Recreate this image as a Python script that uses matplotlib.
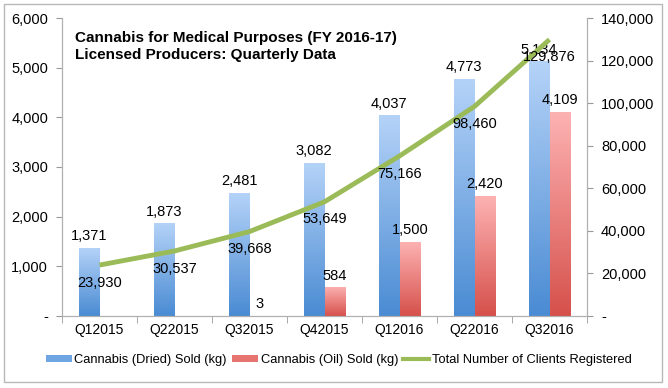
import numpy as np
import matplotlib
matplotlib.use("Agg")
import matplotlib.pyplot as plt
from matplotlib.colors import LinearSegmentedColormap
from matplotlib.patches import Rectangle, Patch
from matplotlib.lines import Line2D
from matplotlib.ticker import FuncFormatter

quarters = ["Q12015", "Q22015", "Q32015", "Q42015", "Q12016", "Q22016", "Q32016"]
dried = [1371, 1873, 2481, 3082, 4037, 4773, 5134]
oil = [0, 0, 3, 584, 1500, 2420, 4109]
clients = [23930, 30537, 39668, 53649, 75166, 98460, 129876]

blue_cm = LinearSegmentedColormap.from_list("b", ["#4a8bd3", "#b5d3f8"])
red_cm = LinearSegmentedColormap.from_list("r", ["#d6504b", "#fdb3b3"])
green = "#9bbb59"

plt.rcParams["font.family"] = ["Liberation Sans", "DejaVu Sans"]

fig = plt.figure(figsize=(6.68, 3.88), dpi=100)
ax = fig.add_axes([62 / 668, 1 - 316 / 388, (587 - 62) / 668, (316 - 18) / 388])
ax2 = ax.twinx()

x = np.arange(len(quarters))
w = 0.28
grad = np.linspace(0, 1, 256).reshape(-1, 1)


def gradient_bars(xs, vals, cmap):
    bars = ax.bar(xs, vals, width=w, align="edge", color="none", edgecolor="none")
    for b in bars:
        h = b.get_height()
        if h <= 0:
            continue
        im = ax.imshow(grad, cmap=cmap, origin="lower", aspect="auto",
                       extent=[b.get_x(), b.get_x() + b.get_width(), 0, h], zorder=2)
        im.set_clip_path(b)
    return bars


gradient_bars(x - w, dried, blue_cm)
gradient_bars(x, oil, red_cm)
ax.set_xlim(-0.5, len(quarters) - 0.5)
ax.set_ylim(0, 6000)
ax2.set_ylim(0, 140000)

fmt = FuncFormatter(lambda v, p: "-" if v == 0 else f"{int(v):,}")
ax.yaxis.set_major_formatter(fmt)
ax2.yaxis.set_major_formatter(fmt)
ax.set_yticks(np.arange(0, 6001, 1000))
ax2.set_yticks(np.arange(0, 140001, 20000))

ax.set_xticks(x)
ax.set_xticklabels(quarters, fontsize=10)
ax.set_xticks(np.arange(-0.5, len(quarters)), minor=True)
ax.tick_params(axis="x", which="major", length=0, pad=5)
ax.tick_params(axis="x", which="minor", length=5, color="#999999")
ax.tick_params(axis="y", length=4, color="#999999", labelsize=10.5, pad=6)
ax2.tick_params(axis="y", length=4, color="#999999", labelsize=10.5, pad=6)

for a in (ax, ax2):
    a.spines["top"].set_visible(False)
    for s in ("left", "right", "bottom"):
        a.spines[s].set_color("#b0b0b0")

# line on secondary axis
ax2.plot(x, clients, color=green, lw=3.5, solid_capstyle="butt", zorder=3)

# labels
for i in range(len(quarters)):
    ax.text(x[i] - w / 2, dried[i] + 90, f"{dried[i]:,}", ha="center", va="bottom", fontsize=10.5, zorder=5)
    if oil[i] > 0:
        ax.text(x[i] + w / 2, oil[i] + 90, f"{oil[i]:,}", ha="center", va="bottom", fontsize=10.5, zorder=5)
    ax2.text(x[i], clients[i] - 5000, f"{clients[i]:,}", ha="center", va="top", fontsize=10.5, zorder=5)

ax.text(0.025, 0.955, "Cannabis for Medical Purposes (FY 2016-17)\nLicensed Producers: Quarterly Data",
        transform=ax.transAxes, ha="left", va="top", fontsize=11, fontweight="bold", linespacing=1.2)

handles = [Patch(facecolor="#6fa5e3", edgecolor="none"),
           Patch(facecolor="#e67470", edgecolor="none"),
           Line2D([0], [0], color=green, lw=3)]
fig.legend(handles, ["Cannabis (Dried) Sold (kg)", "Cannabis (Oil) Sold (kg)", "Total Number of Clients Registered"],
           loc="center", bbox_to_anchor=(0.507, 1 - 360 / 388), ncol=3, frameon=False, fontsize=9.3,
           handlelength=2.0, handleheight=0.4, handletextpad=0.2, columnspacing=0.4)

fig.patches.append(Rectangle((4 / 668, 1 - 382 / 388), 658 / 668, 378 / 388, transform=fig.transFigure,
                             fill=False, edgecolor="#b8b8b8", lw=1))

fig.savefig("out.png", dpi=100)
